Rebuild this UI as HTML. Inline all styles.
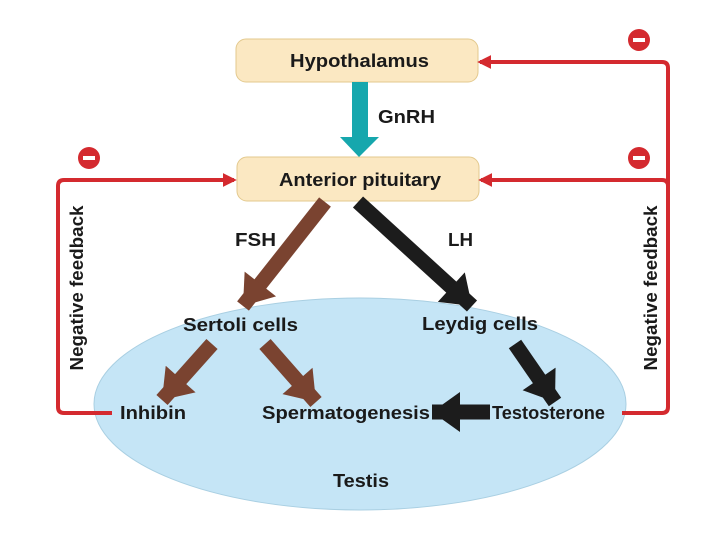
<!DOCTYPE html>
<html><head><meta charset="utf-8"><style>
html,body{margin:0;padding:0;background:#fff}
svg{display:block}
text{font-family:"Liberation Sans",Arial,sans-serif;font-weight:bold;fill:#1a1a1a}
</style></head><body>
<svg width="720" height="540" viewBox="0 0 720 540">
<defs>
<marker id="hb" viewBox="0 0 10 10" refX="10" refY="5" markerWidth="40" markerHeight="40" markerUnits="userSpaceOnUse" orient="auto"><path d="M3,0 L10,5 L3,10 z" fill="#7a4330"/></marker>
<marker id="hk" viewBox="0 0 10 10" refX="10" refY="5" markerWidth="40" markerHeight="40" markerUnits="userSpaceOnUse" orient="auto"><path d="M3,0 L10,5 L3,10 z" fill="#1c1c1c"/></marker>
<marker id="hr" viewBox="0 0 10 10" refX="8" refY="5" markerWidth="14" markerHeight="14" markerUnits="userSpaceOnUse" orient="auto"><path d="M0,0 L10,5 L0,10 z" fill="#d42a2f"/></marker>
</defs>
<ellipse cx="360" cy="404" rx="266" ry="106" fill="#c5e5f6" stroke="#a9cfe2" stroke-width="1"/>
<rect x="236" y="39" width="242" height="43" rx="10" fill="#fbe8c2" stroke="#e3c98e"/>
<text x="290" y="67" font-size="18" textLength="139" lengthAdjust="spacingAndGlyphs">Hypothalamus</text>
<rect x="237" y="157" width="242" height="44" rx="10" fill="#fbe8c2" stroke="#e3c98e"/>
<text x="279" y="186" font-size="18" textLength="162" lengthAdjust="spacingAndGlyphs">Anterior pituitary</text>
<rect x="352" y="82" width="16" height="55" fill="#16a7ad"/>
<path d="M340,137 L379,137 L359,157 z" fill="#16a7ad"/>
<text x="378" y="123" font-size="18" textLength="57" lengthAdjust="spacingAndGlyphs">GnRH</text>
<line x1="325" y1="202" x2="243" y2="306" stroke="#7a4330" stroke-width="15" marker-end="url(#hb)"/>
<line x1="358" y1="202" x2="472" y2="306" stroke="#1c1c1c" stroke-width="15" marker-end="url(#hk)"/>
<text x="235" y="246" font-size="18" textLength="41" lengthAdjust="spacingAndGlyphs">FSH</text>
<text x="448" y="246" font-size="18" textLength="25" lengthAdjust="spacingAndGlyphs">LH</text>
<text x="183" y="331" font-size="18" textLength="115" lengthAdjust="spacingAndGlyphs">Sertoli cells</text>
<text x="422" y="330" font-size="18" textLength="116" lengthAdjust="spacingAndGlyphs">Leydig cells</text>
<line x1="212" y1="344" x2="162" y2="400" stroke="#7a4330" stroke-width="15" marker-end="url(#hb)"/>
<line x1="265" y1="344" x2="316" y2="402" stroke="#7a4330" stroke-width="15" marker-end="url(#hb)"/>
<line x1="515" y1="344" x2="555" y2="402" stroke="#1c1c1c" stroke-width="15" marker-end="url(#hk)"/>
<line x1="490" y1="412" x2="432" y2="412" stroke="#1c1c1c" stroke-width="15" marker-end="url(#hk)"/>
<text x="120" y="419" font-size="18" textLength="66" lengthAdjust="spacingAndGlyphs">Inhibin</text>
<text x="262" y="419" font-size="18" textLength="168" lengthAdjust="spacingAndGlyphs">Spermatogenesis</text>
<text x="492" y="419" font-size="18" textLength="113" lengthAdjust="spacingAndGlyphs">Testosterone</text>
<text x="333" y="487" font-size="18" textLength="56" lengthAdjust="spacingAndGlyphs">Testis</text>
<path d="M112,413 L64,413 Q58,413 58,407 L58,186 Q58,180 64,180 L234,180" fill="none" stroke="#d42a2f" stroke-width="4" marker-end="url(#hr)"/>
<path d="M622,413 L662,413 Q668,413 668,407 L668,68 Q668,62 662,62 L480,62" fill="none" stroke="#d42a2f" stroke-width="4" marker-end="url(#hr)"/>
<path d="M668,186 Q668,180 662,180 L481,180" fill="none" stroke="#d42a2f" stroke-width="4" marker-end="url(#hr)"/>
<circle cx="89" cy="158" r="11" fill="#d42a2f"/><rect x="83" y="156" width="12" height="4" fill="#fff"/>
<circle cx="639" cy="158" r="11" fill="#d42a2f"/><rect x="633" y="156" width="12" height="4" fill="#fff"/>
<circle cx="639" cy="40" r="11" fill="#d42a2f"/><rect x="633" y="38" width="12" height="4" fill="#fff"/>
<text transform="translate(83,288) rotate(-90)" font-size="18" text-anchor="middle" textLength="165" lengthAdjust="spacingAndGlyphs">Negative feedback</text>
<text transform="translate(657,288) rotate(-90)" font-size="18" text-anchor="middle" textLength="165" lengthAdjust="spacingAndGlyphs">Negative feedback</text>
</svg>
</body></html>
